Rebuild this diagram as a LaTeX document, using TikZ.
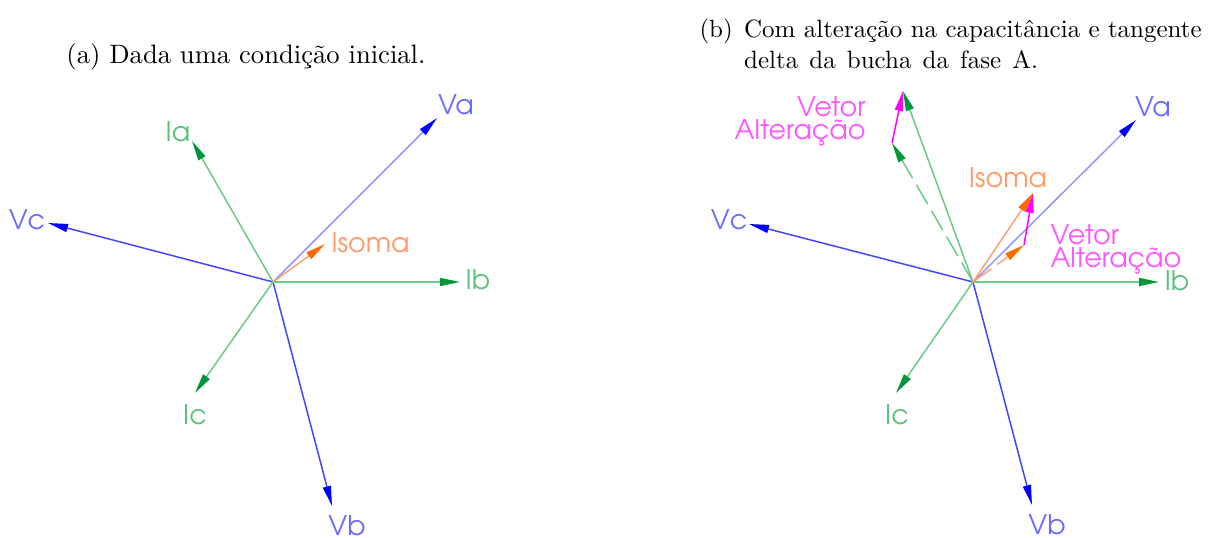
\documentclass[tikz,border=0pt]{standalone}
\usepackage{fontspec}
\newfontfamily\cad{TeX Gyre Adventor}
\usetikzlibrary{arrows.meta}
\definecolor{vline}{HTML}{4646FF}
\definecolor{valine}{HTML}{9595FF}
\definecolor{vtip}{HTML}{0000FF}
\definecolor{vlab}{HTML}{6A6AFF}
\definecolor{gline}{HTML}{6CC98A}
\definecolor{gtip}{HTML}{00963C}
\definecolor{glab}{HTML}{5CBF7A}
\definecolor{oline}{HTML}{FFA070}
\definecolor{otip}{HTML}{FF6A00}
\definecolor{olab}{HTML}{FF9A66}
\definecolor{mline}{HTML}{FF00FF}
\definecolor{mlab}{HTML}{FF55FF}
\begin{document}
\begin{tikzpicture}[x=0.4pt,y=-0.4pt,
  vec/.style={line width=0.6pt},
  vvec/.style={vec, draw=vline, -{Triangle[length=8pt,width=3.2pt,color=vtip]}},
  vavec/.style={vec, draw=valine, -{Triangle[length=8pt,width=3.2pt,color=vtip]}},
  gvec/.style={vec, draw=gline, -{Triangle[length=8pt,width=3.2pt,color=gtip]}},
  ovec/.style={vec, draw=oline, -{Triangle[length=8pt,width=3.2pt,color=otip]}},
  mvec/.style={vec, draw=mline, -{Triangle[length=8pt,width=3.2pt,color=mline]}},
  longdash/.style={dash pattern=on 9pt off 3pt},
  lab/.style={font=\cad\fontsize{10.8}{10}\selectfont, inner sep=0pt},
  vl/.style={lab, text=vlab},
  gl/.style={lab, text=glab},
  ol/.style={lab, text=olab},
  ml/.style={lab, text=mlab, align=#1, font=\cad\fontsize{10.8}{9.3}\selectfont},
  captxt/.style={inner sep=0pt, font=\fontsize{10}{12.4}\selectfont}
]
\useasboundingbox (0,0) rectangle (1219,538);

% ---------- captions ----------
\node[captxt, font=\fontsize{10.65}{12.4}\selectfont] (capa) at (246,57) {(a) Dada uma condição inicial.};
\node[captxt, anchor=north west] (capb) at (699,15)
  {\begin{tabular}{@{}l@{\hspace{0.45em}}l@{}}(b)&Com alteração na capacitância e tangente\\ &\hbox to 117.6pt{delta\hfill da\hfill bucha\hfill da\hfill fase\hfill A.}\end{tabular}};

% ---------- (a) ----------
\coordinate (O) at (273,282);
\coordinate (Va) at (437,118);
\coordinate (Ia) at (192,141);
\coordinate (Vc) at (48,223);
\coordinate (Is) at (325,244);
\coordinate (Ib) at (460,282);
\coordinate (Ic) at (195,393);
\coordinate (Vb) at (332,506);

\draw[vavec] (O) -- (Va);
\draw[vvec] (O) -- (Vc);
\draw[vvec] (O) -- (Vb);
\draw[gvec] (O) -- (Ia);
\draw[gvec] (O) -- (Ib);
\draw[gvec] (O) -- (Ic);
\draw[ovec] (O) -- (Is);

\node[vl] (lVa) at (456,105) {Va};
\node[vl] (lVc) at (27,220) {Vc};
\node[vl] (lVb) at (347,526) {Vb};
\node[gl] (lIa) at (178,132) {Ia};
\node[gl] (lIb) at (478,280) {Ib};
\node[gl] (lIc) at (195,415) {Ic};
\node[ol, anchor=west] (lIs) at (331,243) {Isoma};

% ---------- (b) ----------
\coordinate (P) at (973,282);
\coordinate (Va2) at (1136,120);
\coordinate (Ia2) at (903,91);
\coordinate (Iad) at (892,143);
\coordinate (Vc2) at (749,224);
\coordinate (Ib2) at (1159,282);
\coordinate (Ic2) at (896,393);
\coordinate (Vb2) at (1032,505);
\coordinate (Isd) at (1024,245);
\coordinate (Is2) at (1033,193);

\draw[vavec] (P) -- (Va2);
\draw[vvec] (P) -- (Vc2);
\draw[vvec] (P) -- (Vb2);
\draw[gvec, longdash] (P) -- (Iad);
\draw[gvec] (P) -- (Ia2);
\draw[gvec] (P) -- (Ib2);
\draw[gvec] (P) -- (Ic2);
\draw[ovec, longdash] (P) -- (Isd);
\draw[mvec] (Iad) -- (Ia2);
\draw[mvec] (Isd) -- (Is2);
\draw[ovec] (P) -- (Is2);

\node[vl] (lVa2) at (1153,107) {Va};
\node[vl] (lVc2) at (729,220) {Vc};
\node[vl] (lVb2) at (1047,525) {Vb};
\node[gl] (lIb2) at (1177,281) {Ib};
\node[gl] (lIc2) at (897,415) {Ic};
\node[ol] (lIs2) at (1008,178) {Isoma};
\node[ml=right, anchor=north east] (lM1) at (866,96) {Vetor\\Alteração};
\node[ml=left, anchor=north west] (lM2) at (1050,224) {Vetor\\Alteração};
\end{tikzpicture}
\end{document}
